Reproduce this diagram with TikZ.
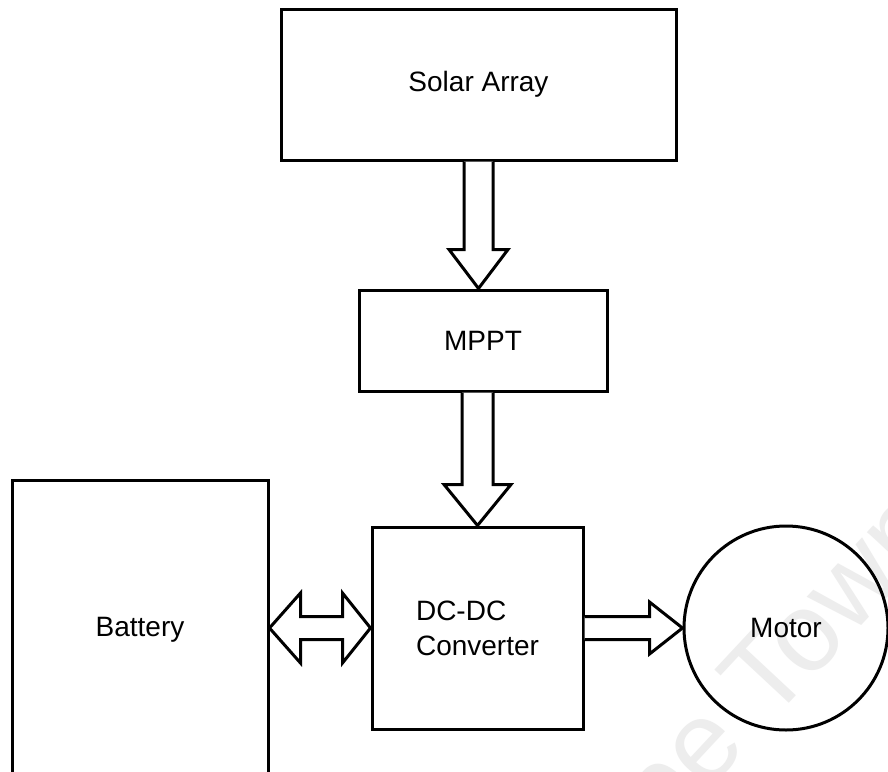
\documentclass[tikz,border=0pt]{standalone}
\usepackage{fontspec}
\setmainfont{Liberation Sans}
\usetikzlibrary{calc}
\begin{document}
\begin{tikzpicture}[x=1pt,y=-1pt,
  box/.style={draw=black, line width=3pt, rectangle, inner sep=0pt, font=\fontsize{28}{35}\selectfont},
  roundbox/.style={draw=black, line width=3pt, circle, inner sep=0pt, font=\fontsize{28}{35}\selectfont},
  blockarrow/.style={draw=black, line width=3pt, fill=white, line join=miter},
  wm/.style={text=black!7, font=\fontsize{112}{112}\selectfont, rotate=47, anchor=base west, inner sep=0pt}]
\useasboundingbox (0,0) rectangle (888,771);
\clip (0,0) rectangle (888,771);
\fill[white] (0,0) rectangle (888,771);
\node[wm] (wmark) at (566,943) {Cape Town};

\node[box, minimum width=395pt, minimum height=151pt] (solar) at (478.5,84.5) {Solar Array};
\node[box, minimum width=248pt, minimum height=101pt] (mppt) at (483,340.5) {MPPT};
\node[box, minimum width=211pt, minimum height=202pt, align=left] (dcdc) at (477.5,628) {DC-DC\\Converter};
\node[box, minimum width=256pt, minimum height=300pt] (battery) at (140,630) {Battery};
\node[roundbox, minimum size=204pt] (motor) at (786,628) {Motor};

% Solar -> MPPT
\coordinate (t1) at (solar.south |- mppt.north);
\draw[blockarrow] ($(solar.south)+(-14.5,0)$) -- ($(t1)+(-14.5,-39)$) -- ($(t1)+(-29.5,-39)$)
  -- (t1) -- ($(t1)+(29.5,-39)$) -- ($(t1)+(14.5,-39)$) -- ($(solar.south)+(14.5,0)$);

% MPPT -> DC-DC
\coordinate (s2) at (dcdc.north |- mppt.south);
\draw[blockarrow] ($(s2)+(-15.5,0)$) -- ($(dcdc.north)+(-15.5,-41)$) -- ($(dcdc.north)+(-33.5,-41)$)
  -- (dcdc.north) -- ($(dcdc.north)+(33.5,-41)$) -- ($(dcdc.north)+(15.5,-41)$) -- ($(s2)+(15.5,0)$);

% Battery <-> DC-DC
\coordinate (bl) at (battery.east |- dcdc.west);
\draw[blockarrow] (bl) -- ($(bl)+(31,-35)$) -- ($(bl)+(31,-11.5)$) -- ($(dcdc.west)+(-28,-11.5)$)
  -- ($(dcdc.west)+(-28,-35)$) -- (dcdc.west) -- ($(dcdc.west)+(-28,35)$) -- ($(dcdc.west)+(-28,11.5)$)
  -- ($(bl)+(31,11.5)$) -- ($(bl)+(31,35)$) -- cycle;

% DC-DC -> Motor
\draw[blockarrow] ($(dcdc.east)+(0,-11.5)$) -- ($(motor.west)+(-33,-11.5)$) -- ($(motor.west)+(-33,-26)$)
  -- (motor.west) -- ($(motor.west)+(-33,26)$) -- ($(motor.west)+(-33,11.5)$) -- ($(dcdc.east)+(0,11.5)$);
\end{tikzpicture}
\end{document}
